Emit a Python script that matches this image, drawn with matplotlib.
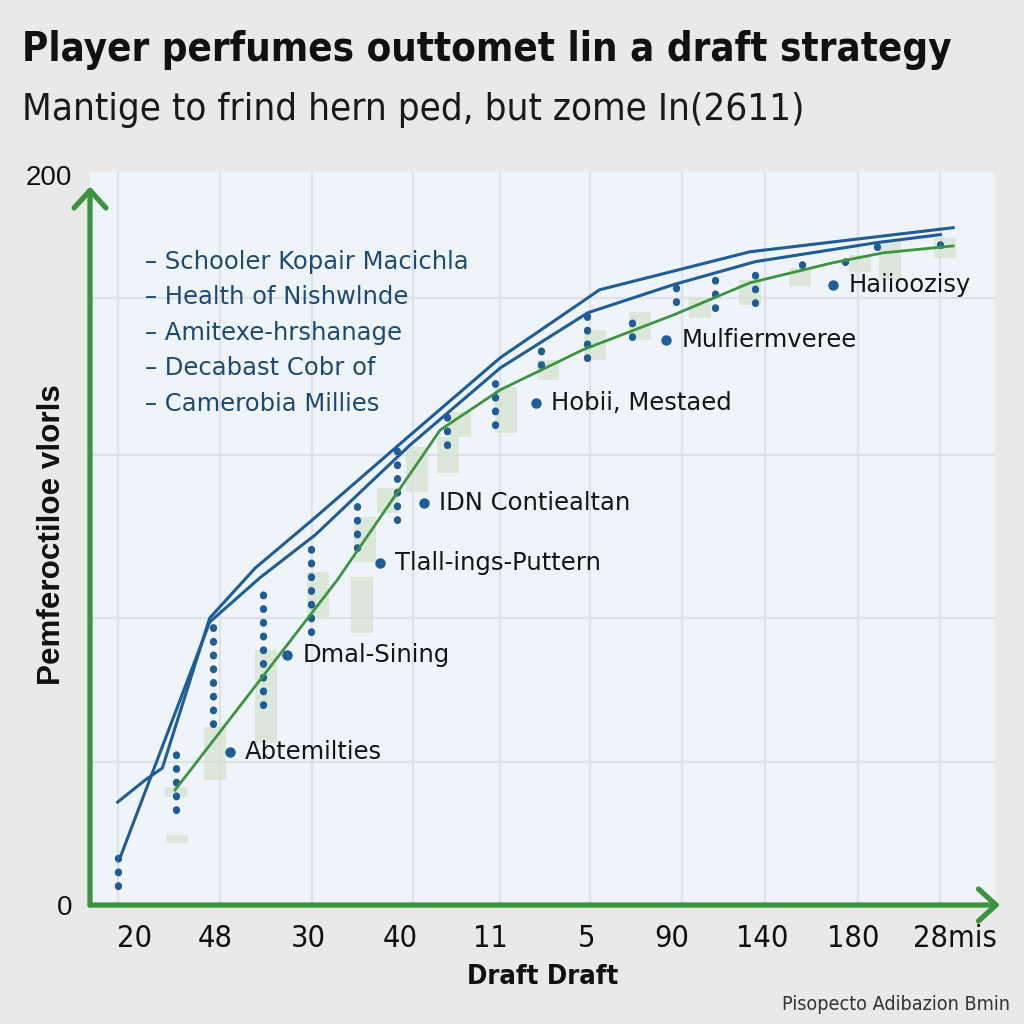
"""
Draft strategy chart: player outcome curves with labelled picks
"""

import matplotlib

matplotlib.use("Agg")
import matplotlib.pyplot as plt
from matplotlib import font_manager

# === data (x in draft-slot units, y in score units) ===
x_tick_pos = [0, 0.88, 1.90, 2.91, 3.90, 4.96, 5.89, 6.88, 7.88, 9.0]
x_tick_labels = ["20", "48", "30", "40", "11", "5", "90", "140", "180", "28mis"]
x_grid = [-0.19, 0.93, 1.94, 3.05, 4.01, 4.99, 6.00, 6.92, 7.94, 8.84]
y_grid = [39.2, 78.6, 123.3, 166.3]

blue_a_x = [-0.19, 0.11, 0.30, 0.82, 1.32, 1.92, 2.96, 4.01, 5.10, 6.75, 8.98]
blue_a_y = [28.2, 34.2, 37.5, 78.6, 92.3, 104.9, 127.4, 149.9, 168.5, 178.9, 185.5]

blue_b_x = [-0.16, 0.82, 1.37, 1.98, 3.02, 4.01, 4.97, 5.91, 6.81, 8.14, 8.84]
blue_b_y = [13.2, 77.5, 89.6, 101.4, 126.0, 147.1, 162.2, 169.9, 176.2, 181.4, 183.6]

green_x = [0.44, 2.22, 3.35, 4.01, 4.92, 5.91, 6.75, 7.66, 8.21, 8.98]
green_y = [31.5, 89.0, 130.1, 141.1, 152.1, 161.6, 170.4, 175.9, 178.6, 180.5]

# dotted columns: x, low, high
col_x = [-0.19, 0.45, 0.86, 1.41, 1.93, 2.44, 2.88, 3.42, 3.95, 4.46,
         4.96, 5.46, 5.94, 6.37, 6.81, 7.32, 7.79, 8.14, 8.84]
col_lo = [5.2, 26.0, 49.6, 54.8, 74.8, 97.8, 105.5, 126.0, 131.5, 147.9,
          149.9, 155.6, 165.2, 163.6, 164.9, 175.3, 176.2, 180.3, 180.8]
col_hi = [13.2, 42.5, 76.7, 88.5, 100.0, 112.3, 124.7, 135.6, 145.2, 152.6,
          161.6, 161.4, 169.3, 172.1, 176.2, 178.1, 178.1, 181.4, 184.1]

# pale green boxes: x, low, high
box_x = [0.45, 0.46, 0.88, 1.44, 2.01, 2.49, 2.52, 2.78, 3.10, 3.44, 3.57,
         4.07, 4.53, 5.05, 5.54, 6.20, 6.75, 7.30, 7.96, 8.29, 8.89]
box_lo = [29.6, 17.0, 34.2, 44.4, 78.6, 74.5, 94.0, 107.4, 113.2, 118.4, 128.2,
          129.3, 143.8, 149.3, 154.8, 160.8, 164.4, 169.6, 173.4, 171.2, 177.3]
box_hi = [32.3, 19.2, 48.8, 69.9, 91.2, 89.9, 106.3, 114.2, 125.5, 128.2, 135.1,
          141.9, 149.3, 157.5, 162.5, 166.3, 171.2, 174.5, 178.1, 182.2, 182.7]

# labelled picks
pick_x = [1.04, 1.67, 2.69, 3.17, 4.40, 5.83, 7.66]
pick_y = [41.9, 68.5, 93.7, 110.1, 137.5, 154.8, 169.9]
pick_names = ["Abtemilties", "Dmal-Sining", "Tlall-ings-Puttern", "IDN Contiealtan",
              "Hobii, Mestaed", "Mulfiermveree", "Haiioozisy"]

legend_names = ["Schooler Kopair Macichla", "Health of Nishwlnde",
                "Amitexe-hrshanage", "Decabast Cobr of", "Camerobia Millies"]

BLUE = "#1f5d98"
GREEN = "#3d9440"
DARK = "#1d4a73"

have = {f.name for f in font_manager.fontManager.ttflist}
SANS = "Liberation Sans" if "Liberation Sans" in have else "DejaVu Sans"

# look for any condensed face, else plain DejaVu
NARROW, STRETCH = "DejaVu Sans", "normal"
for f in font_manager.fontManager.ttflist:
    if "condensed" in str(f.stretch) or "Narrow" in f.name or "Condensed" in f.name:
        NARROW, STRETCH = f.name, f.stretch
        break


def fit(fig, txt, target_px, vertical=False):
    # scale font size so the text spans target_px
    r = fig.canvas.get_renderer()
    bb = txt.get_window_extent(renderer=r)
    size = bb.height if vertical else bb.width
    txt.set_fontsize(txt.get_fontsize() * target_px / size)


def draw():
    fig = plt.figure(figsize=(10.24, 10.24), dpi=100)
    fig.patch.set_facecolor("#e9e9e9")
    ax = fig.add_axes([0.0879, 0.1162, 0.8838, 0.716])
    ax.set_facecolor("#eef4fa")
    ax.set_xlim(-0.494, 9.44)
    ax.set_ylim(0, 200.8)

    # grid
    for gx in x_grid:
        ax.axvline(gx, color="#dce2e8", lw=1.6, zorder=0)
    for gy in y_grid:
        ax.axhline(gy, color="#dce2e8", lw=1.6, zorder=0)

    # pale boxes
    ax.bar(box_x, [h - l for l, h in zip(box_lo, box_hi)], bottom=box_lo,
           width=0.24, color="#d3e3cc", alpha=0.7, zorder=1)

    # dotted columns
    for cx, lo, hi in zip(col_x, col_lo, col_hi):
        ax.plot([cx, cx], [lo, hi], color=BLUE, lw=5.2, ls=(0, (0.1, 1.8)),
                dash_capstyle="round", zorder=3)

    # curves
    ax.plot(blue_a_x, blue_a_y, color=BLUE, lw=2.2, zorder=4)
    ax.plot(blue_b_x, blue_b_y, color=BLUE, lw=2.2, zorder=4)
    ax.plot(green_x, green_y, color=GREEN, lw=2.0, zorder=4)

    # labelled picks
    ax.plot(pick_x, pick_y, "o", color=BLUE, ms=6.5, zorder=5)
    for px, py, name in zip(pick_x, pick_y, pick_names):
        ax.annotate(name, (px, py), xytext=(11, 0), textcoords="offset points",
                    va="center", ha="left", fontsize=17.5, family="DejaVu Sans",
                    color="#151515", zorder=6)

    # legend-ish list
    for i, name in enumerate(legend_names):
        ax.text(0.061, 0.877 - i * 0.0483, "\u2013 " + name, transform=ax.transAxes,
                ha="left", va="center", fontsize=17.5, family="DejaVu Sans", color=DARK)

    # axes + arrows
    for s in ax.spines.values():
        s.set_visible(False)
    ax.set_xticks(x_tick_pos)
    ax.set_xticklabels(x_tick_labels, fontsize=22, family=NARROW, stretch=STRETCH,
                       color="#111111")
    ax.set_yticks([0, 200])
    ax.set_yticklabels(["0", "200"], fontsize=20, family=SANS, color="#111111")
    ax.tick_params(axis="x", length=0, pad=14)
    ax.tick_params(axis="y", length=0, pad=13)

    chevron = dict(arrowstyle="->,head_length=0.55,head_width=0.5", color=GREEN,
                   lw=3.8, mutation_scale=23, shrinkA=0, shrinkB=0)
    ax.annotate("", xy=(0, 0.98), xytext=(0, 0), xycoords="axes fraction",
                arrowprops=chevron, annotation_clip=False)
    ax.annotate("", xy=(1.0055, 0), xytext=(0, 0), xycoords="axes fraction",
                arrowprops=chevron, annotation_clip=False)

    # texts
    title = fig.text(22 / 1024, 1 - 50 / 1024,
                     "Player perfumes outtomet lin a draft strategy",
                     fontsize=30, fontweight="bold", family=NARROW, stretch=STRETCH,
                     va="center", ha="left", color="#111111")
    sub = fig.text(22 / 1024, 1 - 110 / 1024,
                   "Mantige to frind hern ped, but zome In(2611)",
                   fontsize=27, fontweight="light", family=NARROW, stretch=STRETCH,
                   va="center", ha="left", color="#1a1a1a")
    ylab = fig.text(52 / 1024, 1 - 535 / 1024, "Pemferoctiloe vlorls", rotation=90,
                    fontsize=22, fontweight="bold", family=SANS, va="center",
                    ha="center", color="#111111")
    xlab = fig.text(543 / 1024, 1 - 977 / 1024, "Draft Draft", fontsize=22,
                    fontweight="bold", family=NARROW, stretch=STRETCH, va="center",
                    ha="center", color="#111111")
    foot = fig.text(1010 / 1024, 1 - 1005 / 1024, "Pisopecto Adibazion Bmin",
                    fontsize=14, family=NARROW, stretch=STRETCH, va="center",
                    ha="right", color="#333333")

    fit(fig, title, 928)
    fit(fig, sub, 783)
    fit(fig, ylab, 300, vertical=True)
    fit(fig, xlab, 151)
    fit(fig, foot, 229)

    return fig


if __name__ == "__main__":
    fig = draw()
    fig.savefig("out.png", dpi=100, facecolor=fig.get_facecolor())
